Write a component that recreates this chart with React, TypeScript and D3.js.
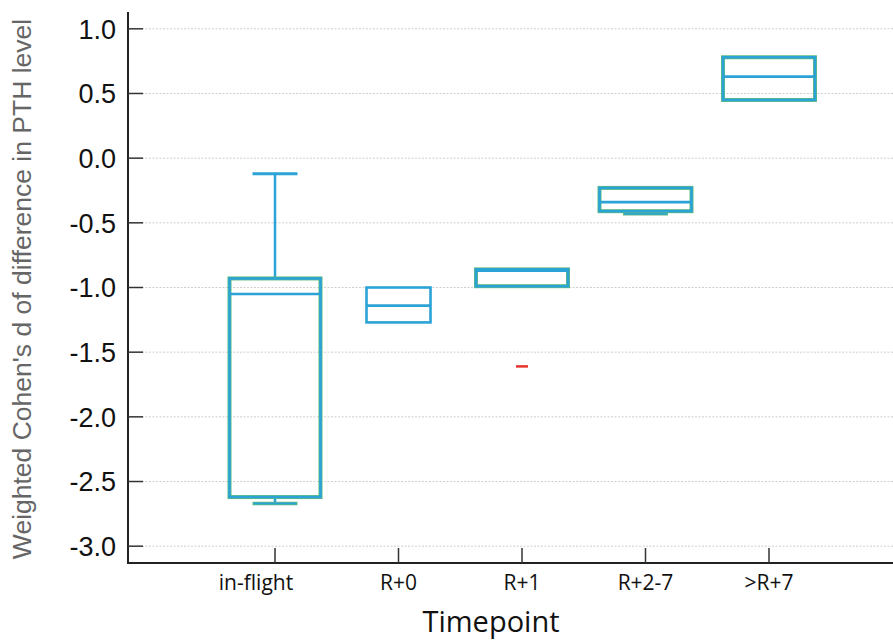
import React from "react";
import * as d3 from "d3";

const categories = ["in-flight", "R+0", "R+1", "R+2-7", ">R+7"];
const q1 = [-2.62, -1.27, -0.99, -0.41, 0.45];
const median = [-1.05, -1.14, -0.87, -0.34, 0.63];
const q3 = [-0.93, -1.0, -0.86, -0.23, 0.78];
const whiskerLow: (number | null)[] = [-2.67, null, null, -0.43, null];
const whiskerHigh: (number | null)[] = [-0.12, null, null, null, null];
const outliers: { cat: string; value: number }[] = [{ cat: "R+1", value: -1.61 }];
const yTicks = [1.0, 0.5, 0.0, -0.5, -1.0, -1.5, -2.0, -2.5, -3.0];

const W = 893;
const H = 643;
const BLUE = "#2ba3d6";
const GREEN = "#62bd7c";
const boxWidths: Record<string, number> = { "in-flight": 91, "R+0": 64, "R+1": 92, "R+2-7": 92, ">R+7": 92 };
const labelDx: Record<string, number> = { "in-flight": -19 };
const SANS = "'Liberation Sans', Arial, sans-serif";
const LABEL = "'Open Sans', Carlito, Calibri, sans-serif";

export default function App() {
  const y = d3.scaleLinear().domain([-3.13, 1.13]).range([563, 12]);
  const x = d3.scalePoint<string>().domain(categories).range([275, 769]);
  const axisX = 128;
  const axisY = 563;
  const capW = 45;
  const fmt = (t: number) => d3.format(".1f")(t).replace("\u2212", "-");

  return (
    <svg width={W} height={H} style={{ position: "absolute", left: 0, top: 0, background: "#fff" }}>
      {yTicks.map((t) => (
        <line key={"g" + t} x1={axisX + 14} x2={W} y1={y(t)} y2={y(t)} stroke="#cfcfcf" strokeWidth={1} strokeDasharray="2,1.5" />
      ))}
      <line x1={axisX} x2={axisX} y1={12} y2={axisY + 1} stroke="#222" strokeWidth={2} />
      {yTicks.map((t) => (
        <g key={"t" + t}>
          <line x1={axisX} x2={axisX + 15} y1={y(t)} y2={y(t)} stroke="#333" strokeWidth={1.5} />
          <text x={116} y={y(t)} dy="0.36em" textAnchor="end" fontFamily={SANS} fontSize={27} fill="#111">
            {fmt(t)}
          </text>
        </g>
      ))}
      <line x1={axisX} x2={W} y1={axisY} y2={axisY} stroke="#222" strokeWidth={2} />
      {categories.map((c) => (
        <g key={"x" + c}>
          <line x1={x(c)} x2={x(c)} y1={axisY} y2={axisY - 15} stroke="#333" strokeWidth={1.5} />
          <text x={(x(c) as number) + (labelDx[c] || 0)} y={590} textAnchor="middle" fontFamily={LABEL} fontSize={21} fill="#111">
            {c}
          </text>
        </g>
      ))}
      <text x={491} y={632} textAnchor="middle" fontFamily={LABEL} fontSize={29} fill="#111">
        Timepoint
      </text>
      <text
        transform={`translate(31,289) rotate(-90)`}
        textAnchor="middle"
        fontFamily={SANS}
        fontSize={26.5}
        fill="#666"
      >
        Weighted Cohen's d of difference in PTH level
      </text>
      {categories.map((c, i) => {
        const cx = x(c) as number;
        const bw = boxWidths[c];
        const top = y(q3[i]);
        const bot = y(q1[i]);
        const wl = whiskerLow[i];
        const wh = whiskerHigh[i];
        const green = c !== "R+0";
        return (
          <g key={"b" + c}>
            {wh !== null && (
              <g>
                <line x1={cx} x2={cx} y1={top} y2={y(wh)} stroke={BLUE} strokeWidth={2.5} />
                <line x1={cx - capW / 2} x2={cx + capW / 2} y1={y(wh)} y2={y(wh)} stroke={BLUE} strokeWidth={3} />
              </g>
            )}
            {wl !== null && (
              <g>
                <line x1={cx} x2={cx} y1={bot} y2={y(wl)} stroke={BLUE} strokeWidth={2.5} />
                <line x1={cx - capW / 2} x2={cx + capW / 2} y1={y(wl)} y2={y(wl)} stroke={GREEN} strokeWidth={3.5} />
                <line x1={cx - capW / 2 + 1} x2={cx + capW / 2 - 1} y1={y(wl)} y2={y(wl)} stroke={BLUE} strokeWidth={2.2} />
              </g>
            )}
            {green && (
              <rect x={cx - bw / 2} y={top} width={bw} height={bot - top} fill="none" stroke={GREEN} strokeWidth={4} />
            )}
            <rect x={cx - bw / 2} y={top} width={bw} height={bot - top} fill="none" stroke={BLUE} strokeWidth={2.6} />
            <line x1={cx - bw / 2} x2={cx + bw / 2} y1={y(median[i])} y2={y(median[i])} stroke={BLUE} strokeWidth={2.6} />
          </g>
        );
      })}
      {outliers.map((o, i) => (
        <line key={"o" + i} x1={(x(o.cat) as number) - 6} x2={(x(o.cat) as number) + 6} y1={y(o.value)} y2={y(o.value)} stroke="#e8332b" strokeWidth={2.5} />
      ))}
    </svg>
  );
}
